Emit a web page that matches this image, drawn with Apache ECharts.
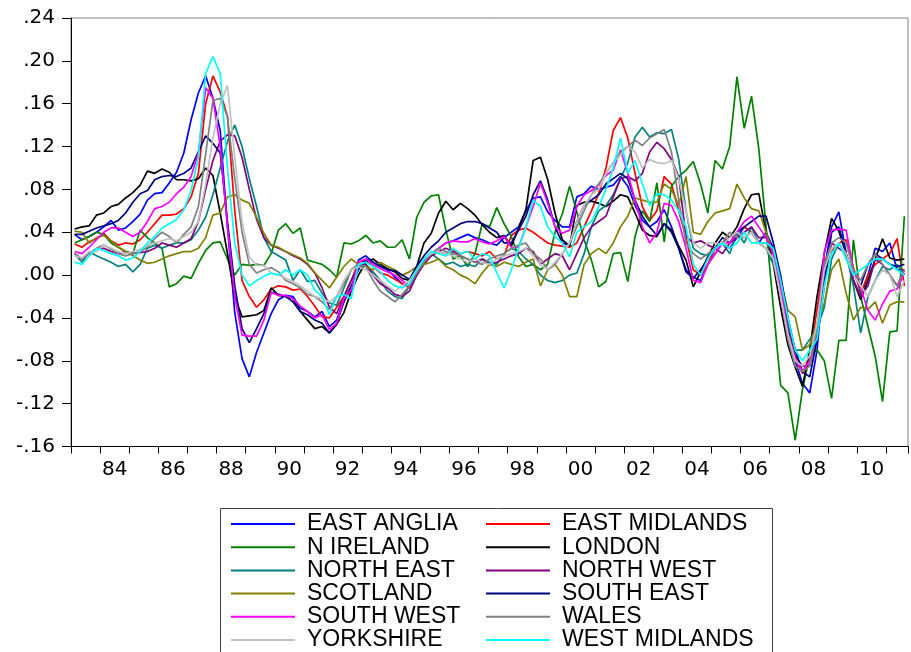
<!DOCTYPE html>
<html>
<head>
<meta charset="utf-8">
<script src="https://cdn.jsdelivr.net/npm/echarts@6/dist/echarts.min.js"></script>
<style>
html,body{margin:0;padding:0;background:#fff;}
#chart{width:911px;height:652px;}
</style>
</head>
<body>
<div id="chart"></div>
<script>
// Quarterly observations 1983Q1 .. 2011Q3 (115 quarters)
const startYear = 1983;
const nQuarters = 115;

const seriesNames = ['EAST ANGLIA','EAST MIDLANDS','N IRELAND','LONDON','NORTH EAST','NORTH WEST',
  'SCOTLAND','SOUTH EAST','SOUTH WEST','WALES','YORKSHIRE','WEST MIDLANDS'];

const eastAnglia = [
  .038,.033,.036,.040, .045,.051,.042,.044, .050,.057,.070,.076, .077,.086,.096,.114,
  .145,.170,.186,.165, .135,.045,-.035,-.078, -.095,-.072,-.054,-.036, -.023,-.019,-.020,-.031,
  -.034,-.039,-.034,-.048, -.042,-.023,-.014,.014, .018,.012,.008,.005, -.002,-.008,-.010,.000,
  .012,.020,.025,.030, .032,.035,.038,.035, .033,.030,.028,.035, .040,.045,.060,.072,
  .073,.059,.051,.045, .045,.073,.076,.083, .080,.082,.084,.092, .083,.065,.051,.045,
  .050,.061,.045,.025, .005,-.002,-.005,.010, .020,.030,.025,.035, .045,.040,.030,.040,
  .025,-.005,-.050,-.080, -.101,-.110,-.070,.005, .045,.059,.020,-.005, -.020,.000,.025,.022,
  .030,.005,.005];

const eastMidlands = [
  .029,.026,.031,.034, .039,.032,.028,.030, .029,.033,.040,.048, .056,.056,.057,.062,
  .073,.095,.160,.186, .171,.148,.060,-.005, -.020,-.030,-.023,-.013, -.010,-.011,-.014,-.013,
  -.020,-.029,-.039,-.040, -.030,-.020,-.005,.012, .014,.008,.002,.000, -.004,-.008,-.012,.000,
  .012,.018,.022,.020, .024,.020,.022,.020, .018,.022,.015,.018, .037,.042,.044,.040,
  .035,.030,.028,.027, .026,.030,.045,.060, .076,.100,.135,.147, .128,.095,.064,.051,
  .060,.092,.085,.060, .035,.005,.000,.010, .025,.030,.035,.040, .045,.040,.030,.030,
  .020,-.010,-.050,-.078, -.092,-.076,-.032,.014, .022,.030,.033,.007, -.017,.000,.010,.015,
  .020,.034,-.010];

const nIreland = [
  .030,.033,.036,.040, .038,.030,.026,.022, .020,.042,.035,.030, .025,-.011,-.008,-.001,
  -.003,.011,.023,.030, .031,.015,.000,.010, .009,.010,.009,.020, .042,.048,.039,.044,
  .014,.012,.010,.005, -.002,.030,.029,.032, .037,.030,.032,.026, .026,.033,.015,.054,
  .068,.074,.075,.042, .015,.018,.008,.020, .048,.045,.063,.048, .036,.017,.008,.010,
  .005,.010,.040,.057, .083,.059,.033,.014, -.011,-.006,.020,.021, -.006,.036,.060,.050,
  .086,.031,.083,.092, .098,.106,.085,.058, .107,.099,.120,.185, .137,.167,.118,.045,
  -.030,-.103,-.110,-.154, -.107,-.075,-.070,-.080, -.115,-.061,-.061,.033, -.020,-.048,-.076,-.118,
  -.053,-.052,.055];

const london = [
  .043,.045,.046,.056, .058,.064,.066,.072, .077,.084,.097,.095, .099,.096,.089,.089,
  .088,.090,.100,.093, .058,.020,-.020,-.039, -.038,-.037,-.033,-.012, -.019,-.020,-.022,-.034,
  -.042,-.050,-.048,-.054, -.046,-.035,-.015,.000, .012,.015,.010,.006, .003,-.003,-.005,.008,
  .030,.039,.058,.069, .061,.067,.062,.056, .047,.040,.035,.037, .027,.044,.061,.107,
  .110,.089,.058,.033, .027,.065,.068,.069, .067,.064,.069,.075, .073,.058,.042,.037,
  .036,.048,.042,.027, .014,-.011,.003,.017, .030,.040,.035,.045, .062,.075,.076,.040,
  .010,-.030,-.065,-.086, -.104,-.070,-.020,.020, .053,.041,.020,-.005, -.023,-.005,.015,.034,
  .016,.014,.015];

const northEast = [
  .020,.012,.022,.018, .015,.012,.008,.010, .003,.010,.025,.028, .025,.028,.030,.030,
  .033,.042,.054,.075, .100,.125,.140,.120, .090,.064,.035,.022, .018,.014,-.005,.005,
  -.006,-.005,-.017,-.026, -.028,-.012,.005,.010, .010,.003,-.005,-.015, -.020,-.022,-.010,.000,
  .015,.020,.015,.010, .012,.008,.010,.008, .015,.012,.010,.020, .025,.022,.015,.010,
  .000,-.005,-.007,-.005, .000,.002,.020,.045, .060,.065,.075,.090, .105,.129,.138,.129,
  .133,.132,.136,.108, .060,.025,.020,.018, .025,.030,.020,.040, .030,.045,.030,.025,
  .010,-.010,-.045,-.070, -.070,-.060,-.050,-.030, .015,.030,.020,-.010, -.054,-.020,-.005,.008,
  .005,.010,.000];

const northWest = [
  .020,.015,.020,.025, .025,.022,.020,.022, .020,.021,.022,.025, .030,.028,.026,.030,
  .034,.050,.080,.107, .125,.131,.130,.110, .080,.052,.035,.028, .025,.022,.018,.015,
  .010,.002,-.012,-.030, -.036,-.020,-.005,.008, .010,.000,-.008,-.012, -.018,-.020,-.015,.000,
  .010,.018,.022,.025, .022,.018,.015,.012, .015,.010,.012,.015, .018,.020,.025,.022,
  .010,.015,.020,.018, .005,.020,.035,.045, .050,.055,.073,.090, .092,.088,.095,.115,
  .124,.118,.108,.092, .036,.030,.032,.028, .025,.020,.030,.035, .040,.045,.035,.035,
  .020,-.005,-.050,-.075, -.085,-.085,-.055,-.005, .030,.025,.020,-.005, -.020,-.010,.015,.010,
  .000,-.010,.005];

const scotland = [
  .041,.040,.030,.035, .037,.032,.026,.022, .018,.014,.011,.012, .015,.018,.020,.022,
  .022,.025,.035,.056, .058,.073,.075,.070, .067,.054,.039,.028, .026,.022,.019,.016,
  .011,.002,-.005,-.012, -.002,.008,.015,.010, .008,.005,.012,.008, .005,.000,.003,.008,
  .010,.012,.015,.008, .005,.000,-.003,-.008, .002,.010,.008,.012, .010,.008,.012,.015,
  -.010,.005,.010,.000, -.020,-.020,.010,.020, .025,.020,.030,.045, .055,.072,.070,.068,
  .068,.085,.080,.065, .092,.040,.038,.050, .058,.060,.062,.085, .072,.062,.060,.040,
  .020,-.005,-.033,-.039, -.070,-.065,-.045,-.026, .005,.015,-.017,-.042, -.030,-.032,-.025,-.045,
  -.028,-.025,-.025];

const southEast = [
  .038,.038,.041,.044, .046,.048,.051,.058, .068,.076,.079,.089, .092,.093,.092,.095,
  .100,.115,.130,.123, .114,.050,-.010,-.050, -.063,-.050,-.036,-.016, -.018,-.020,-.025,-.034,
  -.037,-.042,-.045,-.054, -.045,-.025,-.010,.005, .015,.012,.008,.005, .004,.000,-.004,.008,
  .018,.026,.032,.040, .044,.048,.050,.050, .048,.044,.040,.030, .030,.042,.055,.075,
  .088,.070,.045,.030, .028,.050,.065,.070, .075,.085,.090,.095, .090,.070,.055,.045,
  .037,.048,.040,.025, .003,-.003,.005,.015, .025,.035,.030,.040, .045,.050,.055,.055,
  .030,.000,-.040,-.070, -.090,-.095,-.060,-.010, .040,.045,.020,.000, -.010,.010,.020,.015,
  .010,.008,.010];

const southWest = [
  .022,.020,.026,.033, .040,.044,.044,.040, .036,.040,.050,.062, .064,.068,.076,.082,
  .092,.114,.175,.165, .120,.045,-.020,-.056, -.057,-.057,-.042,-.016, -.019,-.019,-.022,-.029,
  -.034,-.040,-.037,-.051, -.045,-.022,-.014,.012, .015,.010,.006,.003, .000,-.005,-.010,.005,
  .015,.020,.025,.030, .032,.031,.031,.034, .031,.029,.032,.036, .026,.026,.045,.064,
  .086,.067,.045,.039, .042,.064,.075,.079, .084,.093,.098,.117, .095,.070,.045,.030,
  .040,.067,.065,.050, .025,-.005,-.007,.010, .020,.030,.030,.040, .050,.055,.045,.035,
  .020,-.010,-.055,-.078, -.090,-.080,-.050,.022, .042,.043,.042,.005, -.012,-.033,-.042,-.027,
  -.015,-.013,.002];

const wales = [
  .020,.015,.020,.025, .028,.024,.020,.018, .020,.022,.026,.034, .040,.036,.030,.038,
  .045,.064,.113,.163, .165,.148,.090,.040, .010,.002,.005,.007, .003,-.005,-.008,-.012,
  -.018,-.020,-.025,-.032, -.020,-.008,.005,.010, .008,-.005,-.015,-.020, -.025,-.018,-.010,.002,
  .012,.020,.025,.022, .020,.018,.015,.012, .010,.015,.018,.020, .025,.028,.030,.020,
  .015,.005,.010,.020, .030,.045,.060,.075, .085,.095,.105,.115, .120,.126,.121,.128,
  .132,.136,.115,.070, .030,.020,.015,.020, .025,.030,.040,.035, .035,.040,.030,.025,
  .015,-.020,-.060,-.085, -.090,-.085,-.050,.010, .030,.035,.030,.005, -.005,.010,.020,.010,
  .000,-.010,.005];

const yorkshire = [
  .018,.016,.022,.022, .028,.025,.022,.020, .022,.024,.028,.030, .032,.034,.032,.036,
  .040,.050,.085,.128, .160,.177,.110,.050, .017,.009,.009,.002, .000,-.003,-.006,-.010,
  -.015,-.020,-.022,-.025, -.020,-.005,.005,.008, .005,.000,-.005,-.010, -.015,-.010,-.005,.005,
  .015,.020,.022,.020, .018,.015,.012,.015, .012,.010,.015,.018, .020,.022,.025,.018,
  .010,.005,.012,.020, .030,.050,.065,.075, .080,.095,.105,.112, .120,.115,.100,.108,
  .105,.104,.107,.090, .060,.030,.025,.030, .030,.028,.035,.040, .035,.040,.030,.025,
  .015,-.020,-.055,-.080, -.085,-.075,-.045,.005, .025,.030,.020,.000, -.010,-.020,-.005,.005,
  .000,-.020,-.005];

const westMidlands = [
  .012,.010,.018,.025, .023,.020,.018,.014, .016,.022,.030,.036, .044,.048,.052,.061,
  .079,.110,.188,.204, .188,.100,.030,.000, -.010,-.005,-.001,.002, .000,.005,.000,.005,
  .000,-.014,-.020,-.037, -.020,-.018,-.022,.010, .012,.008,.003,-.005, -.010,-.012,-.008,.005,
  .015,.022,.020,.018, .025,.020,.022,.015, .020,.018,.002,-.012, .005,.025,.045,.070,
  .064,.045,.036,.030, .017,.040,.045,.050, .064,.080,.100,.128, .095,.107,.085,.065,
  .076,.075,.070,.060, .045,.010,.000,.015, .025,.030,.025,.030, .040,.030,.030,.030,
  .025,-.005,-.040,-.070, -.080,-.070,-.060,-.010, .020,.030,.015,.000, .005,.010,.015,.015,
  .010,.005,.000];

const allValues = [eastAnglia, eastMidlands, nIreland, london, northEast, northWest,
  scotland, southEast, southWest, wales, yorkshire, westMidlands];

const colors = ['#0000FF','#FF0000','#008000','#000000','#008080','#800080',
  '#808000','#000080','#FF00FF','#808080','#C0C0C0','#00FFFF'];

const yTicks = [-0.16,-0.12,-0.08,-0.04,0,0.04,0.08,0.12,0.16,0.20,0.24];

const chart = echarts.init(document.getElementById('chart'), null, {renderer:'canvas'});

const series = allValues.map((arr, k) => ({
  name: seriesNames[k],
  type: 'line',
  xAxisIndex: 0,
  yAxisIndex: 0,
  data: arr.map((v, i) => [i + 0.5, v]),
  symbol: 'none',
  color: colors[k],
  itemStyle: {color: colors[k]},
  lineStyle: {color: colors[k], width: 1.7},
  animation: false,
  z: 2 + k
}));

const legendText = {fontFamily: 'Liberation Sans, Arial, sans-serif', fontSize: 23, color: '#000', lineHeight: 23, padding: [0,0,0,7]};

const option = {
  animation: false,
  backgroundColor: '#ffffff',
  grid: {left: 71, top: 18, width: 843, height: 428.5, show: true, borderColor: '#808080', borderWidth: 1, containLabel: false},
  xAxis: [
    {type: 'value', min: 0, max: nQuarters, interval: 4, position: 'bottom', offset: 0,
     axisLine: {show: true, onZero: false, lineStyle: {color: '#000', width: 1}},
     axisTick: {show: true, inside: false, length: 7, lineStyle: {color: '#000', width: 1}},
     axisLabel: {show: false}, splitLine: {show: false}},
    {type: 'value', min: 0, max: nQuarters, interval: 2, position: 'bottom', offset: 0,
     axisLine: {show: false}, axisTick: {show: false}, splitLine: {show: false},
     axisLabel: {show: true, margin: 13, color: '#000', fontFamily: 'DejaVu Sans, sans-serif', fontSize: 20,
       showMinLabel: true, showMaxLabel: true,
       formatter: function (t) {
         const k = Math.round(t);
         if (k % 8 !== 6) return '';
         const y = startYear + (k - 2) / 4;
         return String(y % 100).padStart(2, '0');
       }}}
  ],
  yAxis: {type: 'value', min: yTicks[0], max: yTicks[yTicks.length - 1], interval: 0.04,
    axisLine: {show: true, onZero: false, lineStyle: {color: '#000', width: 1}},
    axisTick: {show: true, inside: false, length: 9, lineStyle: {color: '#000', width: 1}},
    splitLine: {show: false},
    axisLabel: {margin: 16, color: '#000', fontFamily: 'DejaVu Sans, sans-serif', fontSize: 20,
      formatter: function (v) {
        const n = Math.round(v * 100);
        return (n < 0 ? '-' : '') + '.' + String(Math.abs(n)).padStart(2, '0');
      }}},
  legend: [
    {orient: 'vertical', left: 231, top: 512.5, width: 250, height: 200, padding: 0, itemGap: 0.2, itemWidth: 64, itemHeight: 2,
     icon: 'rect', textStyle: legendText, selectedMode: false,
     data: [seriesNames[0], seriesNames[2], seriesNames[4], seriesNames[6], seriesNames[8], seriesNames[10]]},
    {orient: 'vertical', left: 486, top: 512.5, width: 280, height: 200, padding: 0, itemGap: 0.2, itemWidth: 64, itemHeight: 2,
     icon: 'rect', textStyle: legendText, selectedMode: false,
     data: [seriesNames[1], seriesNames[3], seriesNames[5], seriesNames[7], seriesNames[9], seriesNames[11]]}
  ],
  graphic: [
    {type: 'rect', left: 218, top: 506, shape: {width: 552, height: 200},
     style: {fill: 'none', stroke: '#404040', lineWidth: 1}, silent: true}
  ],
  series: series
};
chart.setOption(option);
</script>
</body>
</html>
